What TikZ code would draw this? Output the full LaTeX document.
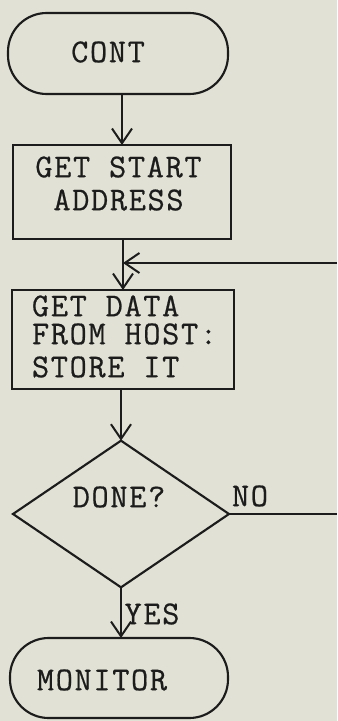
\documentclass[tikz,border=0pt]{standalone}
\usepackage{fontspec}
\newfontfamily\twfont[LetterSpace=5,FakeBold=0.6]{Latin Modern Mono}
\usetikzlibrary{arrows.meta,shapes.geometric}
\definecolor{paper}{HTML}{E1E1D5}
\definecolor{ink}{HTML}{1C1C1C}
\begin{document}
\begin{tikzpicture}[x=0.75pt,y=-0.75pt,
  every node/.style={inner sep=0pt, outer sep=0pt},
  shape line/.style={draw=ink, line width=1.6pt},
  term/.style={shape line, rectangle, rounded corners=29pt},
  procbox/.style={shape line, rectangle},
  decision/.style={shape line, diamond, minimum width=162pt, minimum height=110pt},
  txt/.style={text=ink, font=\twfont\fontsize{25}{27}\selectfont},
  flow/.style={draw=ink, line width=1.5pt},
  arr/.style={flow, -{Straight Barb[length=11pt,width=15pt,line width=1.5pt]}}
]
% paper
\fill[paper] (0,0) rectangle (337,721);
\useasboundingbox (0,0) rectangle (337,721);

% shapes
\node[term, minimum width=165pt, minimum height=60.75pt] (cont) at (118,53.5) {};
\node[procbox, minimum width=163.5pt, minimum height=70.5pt] (start) at (122,192) {};
\node[procbox, minimum width=166.5pt, minimum height=74.25pt] (data) at (123,339.5) {};
\node[decision] (done) at (121,514) {};
\node[term, minimum width=163.5pt, minimum height=60pt] (mon) at (119,678) {};

% texts
\node[txt] (tcont) at (108,52) {CONT};
\node[txt] (tstart1) at (118.5,167) {GET START};
\node[txt] (tstart2) at (118.5,200) {ADDRESS};
\node[txt, anchor=west] (tdata1) at (32,306) {GET DATA};
\node[txt, anchor=west] (tdata2) at (32,334) {FROM HOST:};
\node[txt, anchor=west] (tdata3) at (32,367) {STORE IT};
\node[txt] (tdone) at (119,497) {DONE?};
\node[txt] (tno) at (250,496) {NO};
\node[txt] (tyes) at (152,614) {YES};
\node[txt] (tmon) at (102,680) {MONITOR};

% off-page ends of the return loop
\coordinate (loopin) at (337,263);
\coordinate (noout) at (337,514);

% connectors
\draw[arr] (start.north |- cont.south) -- (start.north);
\draw[arr] (data.north |- start.south) -- (data.north);
\draw[arr] (loopin) -- (loopin -| data.north);
\draw[arr] (done.north |- data.south) -- (done.north);
\draw[flow] (done.east) -- (noout);
\draw[arr] (done.south) -- (done.south |- mon.north);
\end{tikzpicture}
\end{document}
